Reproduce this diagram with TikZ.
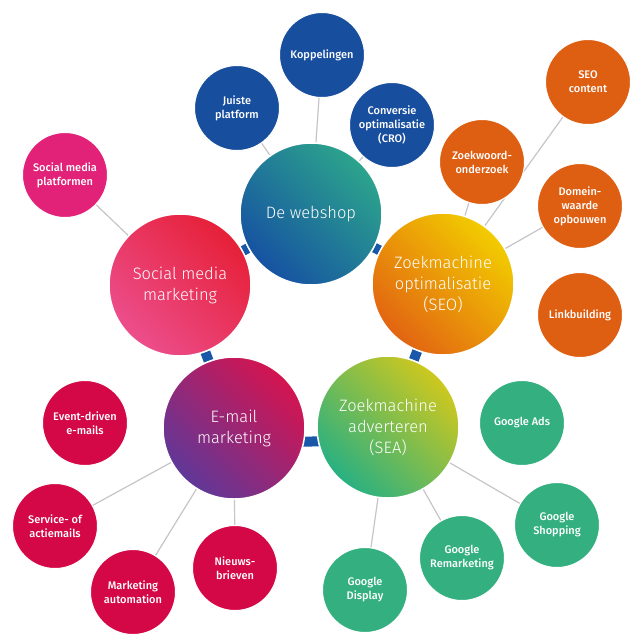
\documentclass[tikz,border=0pt]{standalone}
\usepackage{fontspec}
\setmainfont{Fira Sans}
\newfontfamily\lightf{Fira Sans Light}
\newfontfamily\medf{Fira Sans Medium}
\usetikzlibrary{backgrounds,calc}
\definecolor{satblue}{RGB}{24,78,158}
\definecolor{satorange}{RGB}{222,94,18}
\definecolor{satpink}{RGB}{226,34,120}
\definecolor{satred}{RGB}{212,8,70}
\definecolor{satgreen}{RGB}{52,176,128}
\definecolor{barblue}{RGB}{25,88,168}
\definecolor{linegray}{RGB}{200,195,200}
\definecolor{webA}{RGB}{22,82,162}
\definecolor{webB}{RGB}{44,164,140}
\definecolor{socA}{RGB}{236,78,140}
\definecolor{socB}{RGB}{230,32,56}
\definecolor{seoA}{RGB}{226,100,18}
\definecolor{seoB}{RGB}{242,204,0}
\definecolor{emA}{RGB}{96,56,152}
\definecolor{emB}{RGB}{212,20,80}
\definecolor{seaA}{RGB}{40,176,130}
\definecolor{seaB}{RGB}{206,200,30}
\begin{document}
\begin{tikzpicture}[x=1pt,y=-1pt,
  big/.style={circle, minimum size=142pt, inner sep=0pt, draw=white, line width=1.5pt,
    text=white, align=center, font=\lightf\fontsize{16.5}{21}\selectfont},
  sat/.style={circle, minimum size=85pt, inner sep=0pt, draw=white, line width=1pt,
    text=white, align=center, font=\medf\fontsize{11}{14}\selectfont},
  bar/.style={draw=barblue, line width=10pt},
  link/.style={draw=linegray, line width=1.2pt}]
\useasboundingbox (0,0) rectangle (638,638);

% main circles
\node[big, left color=webA, right color=webB, shading angle=135] (web) at (311,214) {De webshop};
\node[big, left color=socA, right color=socB, shading angle=135] (soc) at (180,285) {Social media\\marketing};
\node[big, left color=seoA, right color=seoB, shading angle=135] (seo) at (443,284) {Zoekmachine\\optimalisatie\\(SEO)};
\node[big, left color=emA, right color=emB, shading angle=135] (em) at (234,428) {E-mail\\marketing};
\node[big, left color=seaA, right color=seaB, shading angle=135] (sea) at (388,427) {Zoekmachine\\adverteren\\(SEA)};

% webshop satellites
\node[sat, fill=satblue] (kop) at (322,55) {Koppelingen};
\node[sat, fill=satblue] (jui) at (237,108) {Juiste\\platform};
\node[sat, fill=satblue] (cro) at (392,125) {Conversie\\optimalisatie\\(CRO)};

% SEO satellites
\node[sat, fill=satorange] (cont) at (588,82) {SEO\\content};
\node[sat, fill=satorange] (zw) at (482,162) {Zoekwoord-\\onderzoek};
\node[sat, fill=satorange] (dom) at (580,206) {Domein-\\waarde\\opbouwen};
\node[sat, fill=satorange] (link) at (580,315) {Linkbuilding};

% social satellite
\node[sat, fill=satpink] (smp) at (65,175) {Social media\\platformen};

% email satellites
\node[sat, fill=satred] (ev) at (85,423) {Event-driven\\e-mails};
\node[sat, fill=satred] (serv) at (55,526) {Service- of\\actiemails};
\node[sat, fill=satred] (ma) at (133,592) {Marketing\\automation};
\node[sat, fill=satred] (nb) at (235,568) {Nieuws-\\brieven};

% SEA satellites
\node[sat, fill=satgreen] (gads) at (522,423) {Google Ads};
\node[sat, fill=satgreen] (gsh) at (557,525) {Google\\Shopping};
\node[sat, fill=satgreen] (grm) at (462,558) {Google\\Remarketing};
\node[sat, fill=satgreen] (gdi) at (365,590) {Google\\Display};

\begin{scope}[on background layer]
  \draw[bar] (web) -- (soc);
  \draw[bar] (web) -- (seo);
  \draw[bar] (soc) -- (em);
  \draw[bar] (seo) -- (sea);
  \draw[bar] ($(em.center)+(0,14)$) -- ($(sea.center)+(0,14)$);
  \draw[link] (kop) -- (web);
  \draw[link] (jui) -- (web);
  \draw[link] (cro) -- (web);
  \draw[link] (cont) -- (seo);
  \draw[link] (zw) -- (seo);
  \draw[link] (dom) -- (seo);
  \draw[link] (smp) -- (soc);
  \draw[link] (serv) -- (em);
  \draw[link] (ma) -- (em);
  \draw[link] (nb) -- (em);
  \draw[link] (gsh) -- (sea);
  \draw[link] (grm) -- (sea);
  \draw[link] (gdi) -- (sea);
\end{scope}
\end{tikzpicture}
\end{document}
